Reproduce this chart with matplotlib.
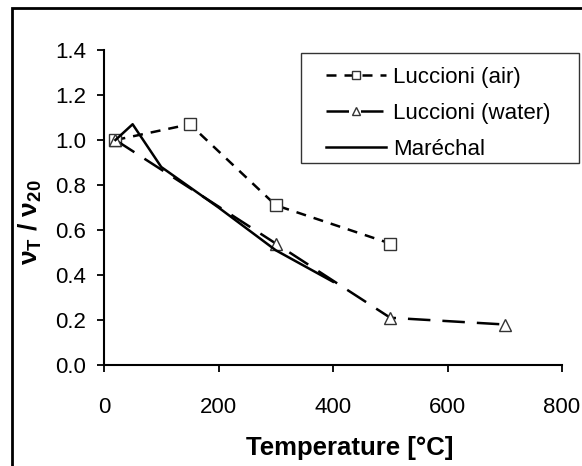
import matplotlib
matplotlib.use("Agg")
import matplotlib.pyplot as plt
from matplotlib.patches import Rectangle

plt.rcParams['font.family'] = ['Liberation Sans', 'DejaVu Sans']
plt.rcParams['mathtext.fontset'] = 'custom'
plt.rcParams['mathtext.bf'] = 'Liberation Sans:bold'
plt.rcParams['mathtext.rm'] = 'Liberation Sans'
plt.rcParams['mathtext.default'] = 'bf'

# donnees
temp_air = [20, 150, 300, 500]
ratio_air = [1.00, 1.07, 0.71, 0.54]

temp_water = [20, 300, 500, 700]
ratio_water = [1.00, 0.54, 0.21, 0.18]

temp_marechal = [20, 50, 100, 200, 300, 400]
ratio_marechal = [1.00, 1.07, 0.88, 0.70, 0.51, 0.37]

xticks = [0, 200, 400, 600, 800]
yticks = [0.0, 0.2, 0.4, 0.6, 0.8, 1.0, 1.2, 1.4]

W, H = 582, 466
fig = plt.figure(figsize=(W / 100, H / 100), dpi=100)
ax = fig.add_axes([104 / W, 1 - 365 / H, (562 - 104) / W, (365 - 50) / H])

# cadre exterieur (coupe a droite et en bas)
fig.patches.append(Rectangle((12 / W, -0.1), 1.2, 1 - 8 / H + 0.1,
                             transform=fig.transFigure, fill=False,
                             edgecolor='black', linewidth=2.0))

ax.plot(temp_air, ratio_air, color='black', lw=1.8, linestyle=(0, (4, 3.2)),
        marker='s', markersize=8.5, markerfacecolor='white',
        markeredgecolor='#333333', markeredgewidth=1.0, label='Luccioni (air)')
ax.plot(temp_water, ratio_water, color='black', lw=1.8, linestyle=(0, (9, 4.8)),
        marker='^', markersize=8.5, markerfacecolor='white',
        markeredgecolor='#333333', markeredgewidth=1.0, label='Luccioni (water)')
ax.plot(temp_marechal, ratio_marechal, color='black', lw=1.8, linestyle='-',
        label='Maréchal')

ax.set_xlim(0, 800)
ax.set_ylim(0, 1.4)
ax.set_xticks(xticks)
ax.set_yticks(yticks)
ax.set_yticklabels([f"{v:.1f}" for v in yticks])

for side in ['top', 'right']:
    ax.spines[side].set_visible(False)
for side in ['left', 'bottom']:
    ax.spines[side].set_linewidth(1.5)

ax.tick_params(axis='y', direction='out', length=5, width=1.3, labelsize=16, pad=8)
ax.tick_params(axis='x', direction='out', length=5, width=1.3, labelsize=16, pad=18)

ax.set_xlabel('Temperature [°C]', fontsize=18.5, fontweight='bold')
ax.xaxis.set_label_coords(0.536, -0.225)
ax.set_ylabel('ν$_{T}$ / ν$_{20}$', fontsize=19, fontweight='bold')
ax.yaxis.set_label_coords(-0.13, 0.454)

# legende sans cadre + cadre dessine a part (plus large que le contenu)
leg = ax.legend(loc='upper left', bbox_to_anchor=(326 / W, 1 - 67 / H),
                bbox_transform=fig.transFigure, fontsize=16, frameon=False,
                handlelength=2.7, handletextpad=0.3, markerscale=0.6,
                borderpad=0, labelspacing=0.68, borderaxespad=0)
fig.patches.append(Rectangle((301 / W, 1 - 163 / H), 278 / W, 110 / H,
                             transform=fig.transFigure, fill=False,
                             edgecolor='#333333', linewidth=1.0))

fig.savefig('out.png', dpi=100)
